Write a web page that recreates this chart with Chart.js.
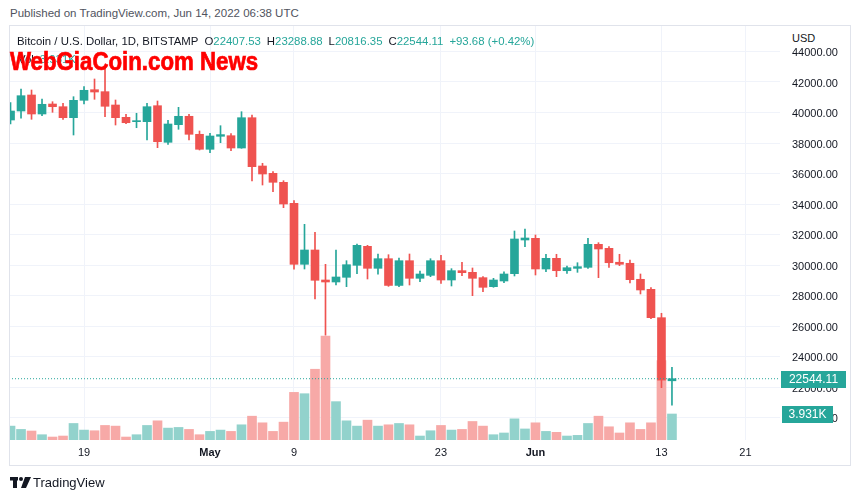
<!DOCTYPE html>
<html><head><meta charset="utf-8">
<script src="https://cdn.jsdelivr.net/npm/chart.js@4/dist/chart.umd.min.js"></script>
<style>
html,body{margin:0;padding:0;background:#fff;width:860px;height:500px;overflow:hidden;font-family:"Liberation Sans",Arial,sans-serif;}
#frame{position:absolute;left:9px;top:25px;width:842px;height:441px;border:1px solid #e0e3eb;box-sizing:border-box;}
canvas{position:absolute;left:0;top:0;}
.t{position:absolute;white-space:nowrap;}
.v{color:#26a69a;}
.g{margin-left:6px;}
</style></head><body>
<div class="t" style="left:10px;top:7px;font-size:11.5px;color:#50535e;">Published on TradingView.com, Jun 14, 2022 06:38 UTC</div>
<div id="frame"></div>
<canvas id="c" width="860" height="500"></canvas>
<div class="t" id="legend" style="left:17px;top:35px;font-size:11.4px;color:#131722;"></div>
<div class="t" id="vol" style="left:18px;top:53px;font-size:11.4px;color:#131722;"></div>
<div class="t" style="left:10px;top:47px;font-size:25px;font-weight:bold;color:#ff0000;-webkit-text-stroke:0.7px #ff0000;transform:scaleX(0.89);transform-origin:0 0;">WebGiaCoin.com News</div>
<div class="t" style="left:781px;top:28px;width:68px;height:20px;background:#fff;font-size:11px;color:#131722;line-height:20px;padding-left:11px;box-sizing:border-box;">USD</div>
<svg style="position:absolute;left:10px;top:477px" width="22" height="12" viewBox="0 0 22 12">
<rect x="0" y="0" width="8" height="3.5" fill="#131722"/><rect x="3" y="0" width="4" height="11" fill="#131722"/>
<circle cx="11" cy="2" r="2" fill="#131722"/><polygon points="15,0 21,0 16,11 11,11" fill="#131722"/>
</svg>
<div class="t" style="left:33px;top:475px;font-size:13px;color:#131722;">TradingView</div>
<script>
const dates = ['Apr 12','Apr 13','Apr 14','Apr 15','Apr 16','Apr 17','Apr 18','Apr 19','Apr 20','Apr 21','Apr 22','Apr 23','Apr 24','Apr 25','Apr 26','Apr 27','Apr 28','Apr 29','Apr 30',
'May 1','May 2','May 3','May 4','May 5','May 6','May 7','May 8','May 9','May 10','May 11','May 12','May 13','May 14','May 15','May 16','May 17','May 18','May 19','May 20','May 21','May 22','May 23','May 24','May 25','May 26','May 27','May 28','May 29','May 30','May 31',
'Jun 1','Jun 2','Jun 3','Jun 4','Jun 5','Jun 6','Jun 7','Jun 8','Jun 9','Jun 10','Jun 11','Jun 12','Jun 13','Jun 14'];
const open  = [39508,40098,41148,39902,40557,40380,39659,40800,41495,41366,40492,39685,39400,39397,40446,38046,39200,39751,38571,
37587,38440,38479,37672,39659,36492,36013,35423,34046,30046,30984,29017,28886,29193,29980,31226,29783,30414,28660,30283,29128,29323,30283,29017,29629,29520,29170,28580,28951,29432,31640,
31750,29738,30438,29626,29780,29848,31356,31094,30180,30112,29063,28406,26546,22407.53];
const high  = [40643,41541,41475,40885,40708,40603,41036,41692,42197,42898,40820,39882,39948,40603,40754,39489,40341,39882,38787,
38636,39135,38610,40053,39836,36669,36118,35528,34217,32669,32145,30046,30984,30283,31378,31290,30722,30676,30460,30722,29607,30414,30637,29760,30180,29804,29234,29126,29560,32230,32362,
31968,30702,30702,29935,30150,31750,31465,31200,30702,30329,29410,28512,26834,23288.88];
const low   = [39246,39620,39554,39790,40013,39554,38525,40557,40866,39725,39180,39266,39003,38197,37692,37915,38899,38197,37541,
37364,38020,37495,37653,35509,35246,34807,33758,29730,29738,27772,25400,28689,28578,29431,29083,29391,28600,28580,28689,28906,29234,28800,28624,29300,27988,28250,28538,28840,29280,31200,
29345,29562,29234,29454,29520,29782,29170,29848,29956,28820,28100,26480,21955,20816.35];
const close = [40098,41102,39902,40538,40380,39659,40800,41456,41344,40407,39659,39331,39440,40380,38085,39246,39751,38571,37587,
38459,38550,37672,39659,36447,35968,35423,34000,30046,30984,28997,28886,29214,30020,31292,29783,30414,28660,30283,29128,29410,30283,29017,29629,29497,29128,28537,29017,29410,31706,31771,
29738,30438,29626,29822,29890,31356,31050,30150,30046,29037,28362,26546,22450.43,22544.11];
const volume = [2.1,1.6,1.36,0.8,0.45,0.6,2.5,1.5,1.4,2.2,2.1,0.45,0.8,2.2,2.9,1.8,1.9,1.6,0.8,
1.3,1.5,1.3,2.3,3.6,2.6,1.3,2.7,7.2,7.0,10.7,15.7,5.8,2.9,2.1,3.0,2.1,2.3,2.5,2.3,0.6,1.4,2.2,1.5,1.6,2.8,2.1,0.8,1.06,3.2,1.67,
2.6,1.3,1.16,0.6,0.7,2.5,3.6,2.0,1.06,2.6,1.6,2.6,12.0,3.931];
const priceTicks = [20000,22000,24000,26000,28000,30000,32000,34000,36000,38000,40000,42000,44000];
const timeTickPos = [7,19,27,41,50,62,70];
const timeTickLabels = ['19','May','9','23','Jun','13','21'];

const UP='#26a69a', DN='#ef5350', UPV='#92d2cc', DNV='#f7a9a7';
const n = dates.length;
const isUp = dates.map((d,i)=>close[i]>=open[i]);
const last = n-1;
const chg = close[last]-close[last-1];
const pct = chg/close[last-1]*100;
document.getElementById('legend').innerHTML =
  'Bitcoin / U.S. Dollar, 1D, BITSTAMP<span class="g">O</span><span class="v">'+open[last].toFixed(2)+'</span><span class="g">H</span><span class="v">'+high[last].toFixed(2)+
  '</span><span class="g">L</span><span class="v">'+low[last].toFixed(2)+'</span><span class="g">C</span><span class="v">'+close[last].toFixed(2)+'</span><span class="v g">'+
  (chg>=0?'+':'')+chg.toFixed(2)+' ('+(pct>=0?'+':'')+pct.toFixed(2)+'%)</span>';
document.getElementById('vol').innerHTML = 'Vol<span class="v g">'+volume[last].toFixed(3)+'K</span>';

const tagPlugin = {
  id:'tags',
  afterDraw(chart){
    const c = chart.ctx, y = chart.scales.y, yv = chart.scales.yv;
    c.save();
    c.font = '12px "Liberation Sans", Arial, sans-serif';
    c.textBaseline='middle';
    const py = Math.round(y.getPixelForValue(close[last]));
    c.fillStyle = UP; c.fillRect(781, py-8, 65, 17);
    c.fillStyle = '#fff'; c.textAlign='center'; c.fillText(close[last].toFixed(2), 813.5, py+1);
    const vy = Math.round(yv.getPixelForValue(volume[last]));
    c.fillStyle = UP; c.fillRect(782, vy-8, 51, 17);
    c.fillStyle = '#fff'; c.fillText(volume[last].toFixed(3)+'K', 807.5, vy+1);
    c.restore();
  }
};

new Chart(document.getElementById('c'), {
  type:'bar',
  data:{
    datasets:[
      { type:'line', data:[{x:-5,y:close[last]},{x:90,y:close[last]}], borderColor:UP, borderWidth:1, borderDash:[1,2], pointRadius:0, order:0, yAxisID:'y' },
      { data:dates.map((d,i)=>({x:i,y:[open[i],close[i]]})), backgroundColor:isUp.map(u=>u?UP:DN), barThickness:8, minBarLength:1, grouped:false, order:1, yAxisID:'y' },
      { data:dates.map((d,i)=>({x:i,y:[low[i],high[i]]})), backgroundColor:isUp.map(u=>u?UP:DN), barThickness:1, grouped:false, order:2, yAxisID:'y' },
      { data:dates.map((d,i)=>({x:i,y:volume[i]})), backgroundColor:isUp.map(u=>u?UPV:DNV), barThickness:9, grouped:false, order:3, yAxisID:'yv' }
    ]
  },
  options:{
    responsive:false, animation:false, devicePixelRatio:1,
    layout:{padding:{left:10,right:10,top:26,bottom:35}},
    plugins:{legend:{display:false},tooltip:{enabled:false}},
    scales:{
      x:{ type:'linear', min:-0.05, max:73.29, offset:false,
          grid:{color:'#f0f3fa', drawTicks:false, offset:false}, border:{display:false},
          afterBuildTicks:(s)=>{ s.ticks = timeTickPos.map(v=>({value:v})); },
          afterFit:(s)=>{ s.height = 25; },
          ticks:{ padding:6, color:'#131722', maxRotation:0, autoSkip:false,
            callback:(v)=>timeTickLabels[timeTickPos.indexOf(v)],
            font:(ctx)=>{ const l = ctx.tick ? timeTickLabels[timeTickPos.indexOf(ctx.tick.value)] : ''; return {family:'"Liberation Sans", Arial, sans-serif', size:11, weight:(l==='May'||l==='Jun')?'bold':'normal'}; } }
      },
      y:{ position:'right', min:18525, max:45672,
          grid:{color:'#f0f3fa', drawTicks:false}, border:{display:false},
          afterBuildTicks:(s)=>{ s.ticks = priceTicks.map(v=>({value:v})); },
          afterFit:(s)=>{ s.width = 70; },
          ticks:{ padding:12, labelOffset:-4, color:'#131722', align:'start', font:{family:'"Liberation Sans", Arial, sans-serif', size:11},
            callback:(v)=>Number(v).toFixed(2) }
      },
      yv:{ display:false, min:0, max:62.6 }
    }
  },
  plugins:[tagPlugin]
});
</script>
</body></html>
